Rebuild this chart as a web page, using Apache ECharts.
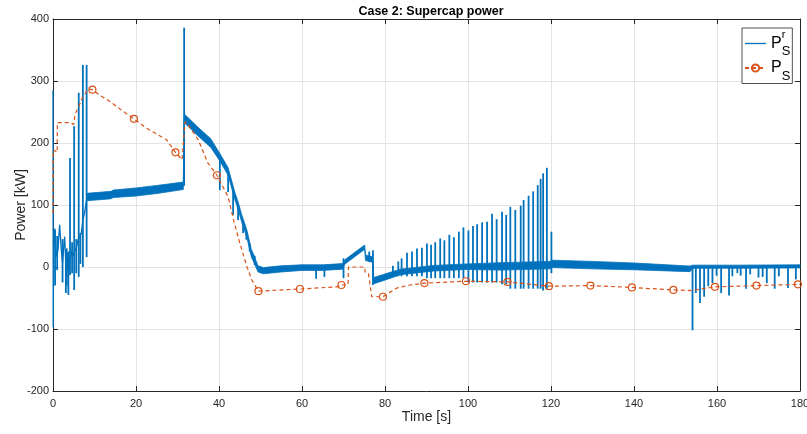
<!DOCTYPE html>
<html>
<head>
<meta charset="utf-8">
<script src="https://cdn.jsdelivr.net/npm/echarts@6/dist/echarts.min.js"></script>
<style>
  html, body { margin: 0; padding: 0; background: #fff; }
  #chart { width: 807px; height: 434px; }
</style>
</head>
<body>
<div id="chart"></div>
<script>
// P_S^r : noisy start (0..8.3 s)
const noiseT = [0, 0.05, 0.15, 0.4, 0.8, 1.2, 1.45, 1.6, 2.0, 2.3, 2.6, 2.8, 3.06, 3.2, 3.5, 3.7, 4.0, 4.3, 4.4, 4.8, 5.2, 5.6, 6.0, 6.4, 6.8, 7.2, 7.6, 8.0, 8.3];
const noiseV = [285, -97, 20, 62, 17, 27, 54, 68, 27, 6, 33, 49, 11, -8, 22, -16, 11, 17, 27, 17, 25, 30, 43, 46, 54, 76, 87, 105, 113];

// P_S^r : thick oscillating band (upper / lower edge)
const bandT  = [8.3, 14, 14.5, 20, 25, 31.4, 31.6, 35, 38, 40.2, 42.2, 43.8, 44.7, 45.4, 46.7, 47.8, 48.3, 49.4, 50.7, 55, 60, 65, 69.8, 70.3, 75.1, 75.3, 77.0, 77.3, 79.6, 83.7, 91.7, 99.7, 107.8, 119.8, 120.3, 130, 140, 153.5, 154.2, 165, 180];
const bandHi = [119, 122, 124, 127.5, 131.5, 137, 247, 225, 207, 183, 160, 121, 103, 86, 60, 28, 21, 2, -1, 2, 3.5, 3.5, 5.5, 11.5, 35.5, 19.5, 16.5, -17, -12, -3.5, 2.5, 5, 7, 9, 11, 9, 6.5, 1.5, 3, 3, 3.5];
const bandLo = [107, 110, 112, 114.5, 118.5, 125, 233, 211, 193, 171, 148, 109, 91, 74, 48, 16, 9, -8, -11, -8, -5.5, -5.5, -3.5, 4.5, 28.5, 10.5, 7.5, -27, -22, -12.5, -6.5, -4, -5, -3, -1, -3, -4.5, -7.5, -2, -2, -1.5];

// P_S^r : spikes
const spikeT  = [0.5, 1.0, 2.3, 3.1, 3.3, 3.7, 4.1, 4.6, 5.1, 5.6, 6.2, 6.6, 7.2, 8.1, 31.6, 40.2, 42.2, 43.4, 44.6, 45.8, 46.6, 47.4, 48.6, 63.4, 65.4, 70.0, 76.2, 77.1,
  81.9, 83.2, 84.0, 85.3, 86.5, 87.7, 88.9, 90.1, 91.1, 92.1, 93.3, 94.3, 95.5, 96.6, 97.8, 98.9, 100.1, 101.2, 102.2, 103.4, 104.6,
  105.8, 106.9, 108.2, 109.2, 110.2, 111.4, 112.7, 113.4, 114.6, 115.7, 116.8, 117.5, 118.1, 119.0, 120.1,
  154.1, 154.9, 155.9, 156.9, 157.9, 158.9, 159.9, 161.0, 162.9, 163.7, 164.9, 165.7, 167.0, 168.0, 170.0, 171.0, 172.0, 173.9, 174.9, 177.1, 179.0];
const spikeLo = [-30, -5, -25, -42, -30, -45, -13, -10, -37, -10, -16, 5, 0, 16, 131, 124, 121, 84, 76, 55, 44, 25, 3, -19, -16, -18, 8, -29,
  -15, -15, -15, -15, -15, -15, -15, -18, -18, -18, -18, -18, -18, -18, -18, -18, -25, -25, -25, -25, -25,
  -25, -25, -28, -28, -35, -35, -35, -35, -35, -35, -35, -35, -38, -36, -10,
  -102, -42, -58, -48, -31, -26, -14, -42, -46, -15, -10, -14, -35, -12, -17, -16, -26, -35, -15, -34, -20];
const spikeHi = [60, 50, 45, 20, 30, 25, 176, 40, 227, 45, 281, 55, 326, 326, 386, 180, 152, 125, 100, 75, 56, 38, 18, 0, 0, 14, 25, 27,
  2, 9, 14, 23, 25, 30, 31, 38, 36, 40, 46, 43, 52, 48, 57, 64, 59, 66, 69, 72, 73,
  86, 77, 89, 84, 97, 92, 99, 108, 115, 122, 132, 142, 151, 160, 57,
  0, 0, 0, 0, 0, 0, 0, 2, 0, 0, 0, 0, 0, 0, 0, 0, 0, 0, 0, 0, 0];

// P_S : dashed line and its circle markers
const psPathT = [0, 0.05, 1.0, 1.05, 4.0, 4.2, 5.0, 5.3, 6.4, 7.0, 8.5, 11.3, 13.7, 16.5, 22.5, 27.4, 31.1, 31.8, 32.3, 35, 37.3, 42.2, 43.5, 45, 46.7, 47.9, 68.4, 71.1, 71.2, 75.1, 75.2, 76.0, 76.8, 82.8, 86, 153.8, 180];
const psPathV = [87, 189, 185, 233, 233, 230, 230, 246, 262, 272, 287, 277, 267, 253, 224, 205, 173, 234, 232, 205, 168, 113, 76, 39, 1, -21, -32, -29, 0, 0, -8, -10, -48, -34, -29, -38, -28];
const psMarkT = [9.5, 19.5, 29.5, 39.5, 49.5, 59.5, 69.5, 79.5, 89.5, 99.5, 109.5, 119.5, 129.5, 139.5, 149.5, 159.5, 169.5, 179.5];
const psMarkV = [286, 239, 185, 148, -39, -35.5, -29, -48, -26, -23, -24, -31, -30, -33, -37, -32, -30, -28];

const xTicks = [0, 20, 40, 60, 80, 100, 120, 140, 160, 180];
const yTicks = [-200, -100, 0, 100, 200, 300, 400];

const BLUE = '#0072BD';
const ORANGE = '#D95319';
const FONT = '"Liberation Sans", Arial, Helvetica, sans-serif';
const INK = '#262626';

const noiseData = noiseT.map((t, i) => [t, noiseV[i]]);
const spikeData = spikeT.map((t, i) => [t, spikeLo[i], spikeHi[i]]);

let psData = psPathT.map((t, i) => ({value: [t, psPathV[i]], symbol: 'none'}));
psMarkT.forEach((t, i) => psData.push({value: [t, psMarkV[i]]}));
psData.sort((a, b) => a.value[0] - b.value[0]);

const axisCommon = {
    type: 'value',
    nameMoveOverlap: false,
    axisLine: {show: true, onZero: false, lineStyle: {color: INK, width: 1}},
    axisTick: {show: true, inside: true, length: 5, lineStyle: {color: INK}},
    splitLine: {show: false},
    axisLabel: {show: false}
};

const myChart = echarts.init(document.getElementById('chart'));
const option = {
    animation: false,
    backgroundColor: '#fff',
    textStyle: {fontFamily: FONT},
    title: {
        text: 'Case 2: Supercap power',
        left: 426, top: 0, textAlign: 'center',
        textStyle: {fontFamily: FONT, fontSize: 12.5, fontWeight: 'bold', color: '#000'}
    },
    grid: {left: 53, right: 7, top: 19, bottom: 43, outerBoundsMode: 'none', containLabel: false},
    legend: {
        orient: 'vertical', left: 742, top: 28,
        padding: [1, 2, 1, 2], itemGap: 2, itemWidth: 21, itemHeight: 9,
        backgroundColor: '#fff', borderColor: INK, borderWidth: 0.8, borderRadius: 0,
        data: [
            {name: 'Pr', itemStyle: {color: 'rgba(0,0,0,0)', borderWidth: 0}, lineStyle: {width: 1.3}},
            {name: 'Ps'}
        ],
        formatter: name => name === 'Pr' ? '{p|P}{sup|r}{sub|S}' : '{p|P}{sub|S}',
        textStyle: {
            rich: {
                p: {fontFamily: FONT, fontSize: 16, color: '#000', lineHeight: 29},
                sup: {fontFamily: FONT, fontSize: 11, color: '#000', width: 0, verticalAlign: 'top', lineHeight: 29},
                sub: {fontFamily: FONT, fontSize: 13, color: '#000', verticalAlign: 'bottom', lineHeight: 29}
            }
        }
    },
    xAxis: [
        Object.assign({}, axisCommon, {
            min: 0, max: 180, interval: 20, position: 'bottom',
            name: 'Time [s]', nameLocation: 'middle', nameGap: 19,
            nameTextStyle: {fontFamily: FONT, fontSize: 14, color: INK},
            axisLabel: {show: true, margin: 7, fontFamily: FONT, fontSize: 11, color: INK,
                formatter: v => xTicks.includes(v) ? String(v) : ''},
            splitLine: {show: true, lineStyle: {color: '#e3e3e3', width: 1}}
        }),
        Object.assign({}, axisCommon, {min: 0, max: 180, interval: 20, position: 'top'})
    ],
    yAxis: [
        Object.assign({}, axisCommon, {
            min: -200, max: 400, interval: 100, position: 'left',
            name: 'Power [kW]', nameLocation: 'middle', nameGap: 25,
            nameTextStyle: {fontFamily: FONT, fontSize: 14, color: INK},
            axisLabel: {show: true, margin: 4, fontFamily: FONT, fontSize: 11, color: INK,
                formatter: v => yTicks.includes(v) ? String(v) : ''},
            splitLine: {show: true, lineStyle: {color: '#e3e3e3', width: 1}}
        }),
        Object.assign({}, axisCommon, {min: -200, max: 400, interval: 100, position: 'right'})
    ],
    series: [
        {
            name: 'Pr', type: 'line', data: noiseData, symbol: 'none',
            lineStyle: {color: BLUE, width: 1.3}, itemStyle: {color: BLUE}, z: 3
        },
        {
            type: 'custom', data: [[0, 0]], z: 3, silent: true,
            renderItem: (params, api) => {
                const pts = [];
                bandT.forEach((t, i) => pts.push(api.coord([t, bandHi[i]])));
                for (let i = bandT.length - 1; i >= 0; i--) pts.push(api.coord([bandT[i], bandLo[i]]));
                return {type: 'polygon', shape: {points: pts}, style: {fill: BLUE, stroke: BLUE, lineWidth: 0.8}};
            }
        },
        {
            type: 'custom', data: spikeData, z: 3, silent: true,
            encode: {x: 0, y: [1, 2]},
            renderItem: (params, api) => {
                const a = api.coord([api.value(0), api.value(1)]);
                const b = api.coord([api.value(0), api.value(2)]);
                return {type: 'line', shape: {x1: a[0], y1: a[1], x2: b[0], y2: b[1]},
                    style: {stroke: BLUE, lineWidth: 1.8}};
            }
        },
        {
            name: 'Ps', type: 'line', data: psData, z: 4,
            symbol: 'circle', symbolSize: 7, showSymbol: true, showAllSymbol: true,
            lineStyle: {color: ORANGE, width: 1.2, type: [4, 3]},
            itemStyle: {color: 'rgba(0,0,0,0)', borderColor: ORANGE, borderWidth: 1.2}
        }
    ]
};
myChart.setOption(option);
</script>
</body>
</html>
